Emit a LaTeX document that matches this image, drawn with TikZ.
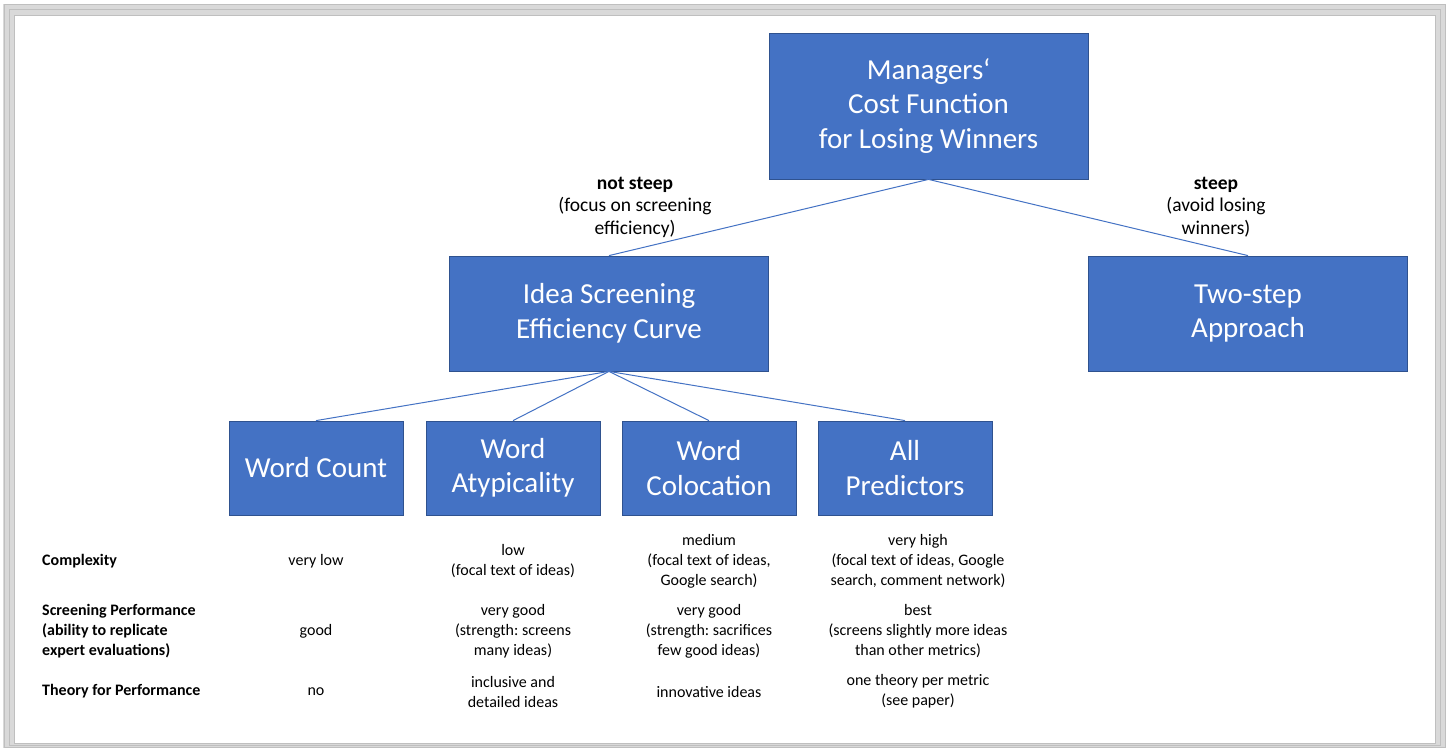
\documentclass[tikz,border=0pt]{standalone}
\usepackage{fontspec}
\setmainfont{Carlito}
\definecolor{boxblue}{HTML}{4472C4}
\definecolor{boxedge}{HTML}{2F528F}
\definecolor{frameA}{HTML}{D9D9D9}
\definecolor{frameB}{HTML}{BFBFBF}
\frenchspacing
\begin{document}
\begin{tikzpicture}[x=1pt,y=-1pt,
  box/.style={draw=boxedge,line width=0.8pt,fill=boxblue,text=white,align=center,
    inner sep=0pt,font=\fontsize{29}{34.5}\selectfont},
  bigbox/.style={box,minimum width=319pt},
  smallbox/.style={box,minimum width=174pt,minimum height=94pt},
  link/.style={draw=boxblue,line width=1pt},
  branch/.style={align=center,yshift=-1.5pt,font=\fontsize{19.5}{22.5}\selectfont},
  cell/.style={align=center,inner sep=0pt,yshift=-1.5pt,font=\fontsize{16}{20}\selectfont},
  rowhead/.style={anchor=west,align=left,inner sep=0pt,yshift=-1.5pt,font=\bfseries\fontsize{16}{20}\selectfont}]
\useasboundingbox (0,0) rectangle (1452,749);
% framed panel
\fill[white] (0,0) rectangle (1452,749);
\fill[frameA] (3,4) rectangle (1446,748);
\draw[frameB,line width=1pt] (4,5) rectangle (1445,747);
\draw[frameB,line width=1pt] (9,10) rectangle (1440,745);
\fill[white] (14,15) rectangle (1435,743);
\draw[frameB,line width=0.8pt] (14,15) rectangle (1435,743);

% hierarchy boxes
\node[bigbox,minimum height=146pt] (mgr) at (928.5,106) {Managers‘\\Cost Function\\for Losing Winners};
\node[bigbox,minimum height=115pt] (idea) at (609,313.5) {Idea Screening\\Efficiency Curve};
\node[bigbox,minimum height=115pt] (two) at (1248,313.5) {Two-step\\Approach};
\node[smallbox] (wc) at (316,468) {Word Count};
\node[smallbox] (wa) at (513,468) {Word\\Atypicality};
\node[smallbox] (wcol) at (709,468) {Word\\Colocation};
\node[smallbox] (all) at (905,468) {All\\Predictors};

% connectors
\draw[link] (mgr.south) -- (idea.north);
\draw[link] (mgr.south) -- (two.north);
\foreach \t in {wc,wa,wcol,all}
  \draw[link] (idea.south) -- (\t.north);

% branch labels
\node[branch] (ns) at (635,205.5) {\textbf{not steep}\\(focus on screening\\efficiency)};
\node[branch] (st) at (1216,205.5) {\textbf{steep}\\(avoid losing\\winners)};

% comparison table
\node[rowhead] (r1) at (42,560) {Complexity};
\node[rowhead] (r2) at (42,630) {Screening Performance\\(ability to replicate\\expert evaluations)};
\node[rowhead] (r3) at (42,690) {Theory for Performance};

\node[cell] (c11) at (316,560) {very low};
\node[cell] (c12) at (513,560) {low\\(focal text of ideas)};
\node[cell] (c13) at (709,560) {medium\\(focal text of ideas,\\Google search)};
\node[cell] (c14) at (918,560) {very high\\(focal text of ideas, Google\\search, comment network)};

\node[cell] (c21) at (316,630) {good};
\node[cell] (c22) at (513,630) {very good\\(strength: screens\\many ideas)};
\node[cell] (c23) at (709,630) {very good\\(strength: sacrifices\\few good ideas)};
\node[cell] (c24) at (918,630) {best\\(screens slightly more ideas\\than other metrics)};

\node[cell] (c31) at (316,690) {no};
\node[cell] (c32) at (513,690) {inclusive and\\detailed ideas};
\node[cell] (c33) at (709,690) {innovative ideas};
\node[cell] (c34) at (918,690) {one theory per metric\\(see paper)};
\end{tikzpicture}
\end{document}
